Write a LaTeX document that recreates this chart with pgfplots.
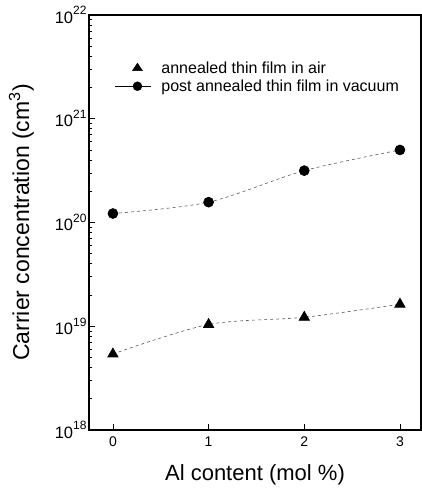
\documentclass[border=0pt]{standalone}
\usepackage{fontspec}
\setmainfont{Liberation Sans}
\usepackage{pgfplots}
\pgfplotsset{compat=1.18}
\newcommand{\tp}[1]{10\raisebox{0.5em}{\fontsize{12}{12}\selectfont #1}}
\begin{document}
\begin{tikzpicture}
\begin{semilogyaxis}[
  scale only axis,
  width=332pt, height=415pt,
  at={(0,0)}, anchor=south west,
  xmin=-0.25, xmax=3.22,
  ymin=1e18, ymax=1e22,
  axis line style={line width=1.4pt},
  xtick={0,1,2,3}, xticklabels={0,1,2,3},
  ytick={1e18,1e19,1e20,1e21,1e22},
  yticklabels={\tp{18},\tp{19},\tp{20},\tp{21},\tp{22}},
  tick align=inside, xtick pos=bottom, ytick pos=left,
  major tick length=6pt, minor tick length=3pt,
  tick style={line width=0.8pt, black},
  xticklabel style={font=\fontsize{14}{16}\selectfont, yshift=-3pt},
  yticklabel style={font=\fontsize{16.5}{18}\selectfont, xshift=1pt},
  xlabel={Al content (mol \%)},
  ylabel={Carrier concentration (cm\textsuperscript{3})},
  xlabel style={font=\fontsize{22}{24}\selectfont, yshift=-11pt},
  ylabel style={font=\fontsize{23}{25}\selectfont, yshift=14pt},
  legend style={at={(0.078,0.893)}, anchor=north west, draw=none, fill=none,
    inner sep=0pt, font=\fontsize{16}{20}\selectfont, row sep=1pt},
  legend cell align=left,
]
\addlegendimage{legend image code/.code={\path[draw=none,fill=none] (0pt,0pt) rectangle (44pt,0pt); \fill[black] (17pt,-2.5pt)--(27pt,-2.5pt)--(22pt,5pt)--cycle;}}
\addlegendentry{annealed thin film in air}
\addlegendimage{legend image code/.code={\path[draw=none,fill=none] (0pt,0pt) rectangle (44pt,0pt); \draw[black,line width=0.7pt] (0pt,0pt)--(36pt,0pt); \fill[black] (22pt,0pt) circle (4.5pt);}}
\addlegendentry{post annealed thin film in vacuum}
\addplot[forget plot, smooth, dashed, gray!70!black, line width=0.6pt, mark=triangle*, mark size=6pt, mark options={solid, fill=black, draw=black}]
  coordinates {(0,5.4e18) (1,1.04e19) (2,1.22e19) (3,1.63e19)};
\addplot[forget plot, smooth, dashed, gray!70!black, line width=0.6pt, mark=*, mark size=5pt, mark options={solid, fill=black, draw=black}]
  coordinates {(0,1.22e20) (1,1.57e20) (2,3.16e20) (3,5.0e20)};
\end{semilogyaxis}
\pgfresetboundingbox
\path[use as bounding box] (-89pt,-61pt) rectangle (333pt,430pt);
\end{tikzpicture}
\end{document}
